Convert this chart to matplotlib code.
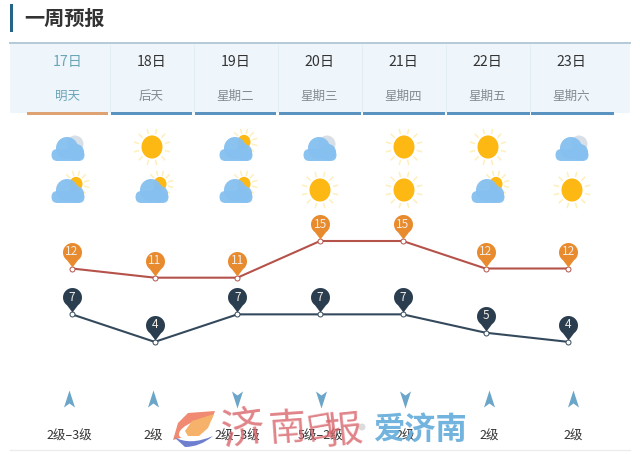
import numpy as np
import matplotlib
matplotlib.use('Agg')
import matplotlib.pyplot as plt
from matplotlib.path import Path
from matplotlib.patches import Circle, Ellipse, FancyBboxPatch, PathPatch, Polygon, Rectangle

plt.rcParams['font.family'] = ['Noto Sans CJK SC', 'DejaVu Sans']

# datos
dias = ['17日', '18日', '19日', '20日', '21日', '22日', '23日']
etiquetas = ['明天', '后天', '星期二', '星期三', '星期四', '星期五', '星期六']
t_max = [12, 11, 11, 15, 15, 12, 12]
t_min = [7, 4, 7, 7, 7, 5, 4]
viento = ['2级–3级', '2级', '2级–3级', '5级–2级', '2级', '2级', '2级']
dir_viento = ['n', 'n', 's', 's', 's', 'n', 'n']
cielo_1 = ['nublado', 'sol', 'parcial', 'nublado', 'sol', 'sol', 'nublado']
cielo_2 = ['parcial', 'parcial', 'parcial', 'sol', 'sol', 'parcial', 'sol']

W, H = 640, 454
fig = plt.figure(figsize=(W / 100, H / 100), dpi=100, facecolor='white')

# eje de fondo en pixeles, para la "pagina"
ax = fig.add_axes([0, 0, 1, 1])
ax.set_xlim(0, W)
ax.set_ylim(H, 0)
ax.axis('off')

AZUL_NUBE = '#86c0f0'


def nube(cx, cy):
    # cx, cy: centro de la nube
    ax.add_patch(FancyBboxPatch((cx - 16.5, cy - 1), 33, 12, boxstyle='round,pad=0,rounding_size=6',
                                fc=AZUL_NUBE, ec='none', alpha=0.97, zorder=4))
    ax.add_patch(Circle((cx - 1, cy - 2), 11, fc=AZUL_NUBE, ec='none', alpha=0.97, zorder=4))
    ax.add_patch(Circle((cx + 8, cy + 2), 8, fc=AZUL_NUBE, ec='none', alpha=0.97, zorder=4))


def sol(cx, cy, r, r1, r2):
    ax.add_patch(Ellipse((cx, cy), 2 * r, 2.2 * r, fc='#fdb813', ec='none', zorder=3))
    for a in np.arange(0, 2 * np.pi, np.pi / 6):
        ax.plot([cx + r1 * np.cos(a + 0.26), cx + r2 * np.cos(a + 0.26)],
                [cy + r1 * np.sin(a + 0.26), cy + r2 * np.sin(a + 0.26)],
                color='#fdf0bc', lw=1.1, zorder=2)


def icono(tipo, cx, cy):
    if tipo == 'sol':
        sol(cx, cy, 10.5, 14, 18)
    elif tipo == 'parcial':
        sol(cx + 8, cy - 8, 6.5, 9, 13)
        nube(cx, cy)
    else:
        ax.add_patch(Circle((cx + 7, cy - 6), 8.5, fc='#d8dfe6', ec='none', zorder=3))
        nube(cx, cy)


# titulo
ax.add_patch(Rectangle((10, 4), 3, 28, fc='#27648a', ec='none'))
ax.text(24, 18.5, '一周预报', fontsize=14.5, color='#333333', weight='bold', va='center', ha='left')

# cabecera
ax.add_patch(Rectangle((10, 44), 620, 69, fc='#eef6fc', ec='none'))
ax.plot([10, 630], [43, 43], color='#b3cad6', lw=1.4)
x_cab = 68 + 84 * np.arange(7)
inicio = [27, 111, 195, 279, 363, 447, 531]
fin = [108, 192, 276, 361, 445, 530, 614]
for i in range(7):
    if i > 0:
        ax.plot([inicio[i] - 1.5] * 2, [45, 111], color='#e2ecf3', lw=0.7)
    c_barra = '#dfa272' if i == 0 else '#5b93c0'
    ax.add_patch(Rectangle((inicio[i], 111.5), fin[i] - inicio[i], 3, fc=c_barra, ec='none'))
    ax.text(x_cab[i] - 0.5, 62, dias[i], fontsize=10.2, ha='center', va='center',
            color='#6aa5b8' if i == 0 else '#333333')
    ax.text(x_cab[i] - 0.5, 96.5, etiquetas[i], fontsize=9, ha='center', va='center',
            color='#6aa5b8' if i == 0 else '#858a8e')
    icono(cielo_1[i], x_cab[i], 150 if cielo_1[i] != 'sol' else 147)
    icono(cielo_2[i], x_cab[i], 192 if cielo_2[i] != 'sol' else 190)

# flechas de viento, como marcador
v = [(0, 9), (-5.5, -8), (0, -4), (5.5, -8), (0, 9)]
cod = [Path.MOVETO, Path.LINETO, Path.LINETO, Path.LINETO, Path.CLOSEPOLY]
flecha_n = Path(v, cod)
flecha_s = Path([(a, -b) for a, b in v], cod)
x_viento = 69 + 84 * np.arange(7)
for i in range(7):
    ax.plot(x_viento[i], 399, marker=flecha_n if dir_viento[i] == 'n' else flecha_s,
            ms=13, color='#6ba6c9', mec='none', ls='')
    ax.text(x_viento[i], 436.5, viento[i], fontsize=9, ha='center', va='center', color='#333333')
ax.plot([10, 630], [449.5, 449.5], color='#ececec', lw=1)

# eje de temperatura, encima del otro y con la misma caja
ax_t = fig.add_axes([0, 0, 1, 1], facecolor='none')
ax_t.set_xlim(-72 / 82.7, (W - 72) / 82.7)
ax_t.set_ylim(15 - (H - 241) / 9.17, 15 + 241 / 9.17)
ax_t.axis('off')

# pin: la punta queda en el (0,0) del marcador
ang = np.linspace(-0.95, np.pi + 0.95, 40)
pin_v = [(0, 2)] + [(9.5 * np.cos(a), 17 + 9.5 * np.sin(a)) for a in ang] + [(0, 2)]
pin = Path(pin_v, [Path.MOVETO] + [Path.LINETO] * (len(pin_v) - 2) + [Path.CLOSEPOLY])
ms_pin = 2 * abs(np.array(pin_v)).max() * 0.72

x = np.arange(7)
for serie, c_linea, c_pin in [(t_max, '#b5524a', '#e88a2e'), (t_min, '#34495c', '#2b3e50')]:
    ax_t.plot(x, serie, color=c_linea, lw=1.5, zorder=2)
    ax_t.plot(x, serie, ls='', marker='o', ms=3.6, mfc='white', mec=c_linea, mew=0.7, zorder=3)
    ax_t.plot(x, serie, ls='', marker=pin, ms=ms_pin, color=c_pin, mec='none', zorder=4)
    for i in x:
        ax_t.annotate(str(serie[i]), (i, serie[i]), xytext=(0, 12.2), textcoords='offset points',
                      ha='center', va='center', fontsize=8.6, color='#f2ece4', zorder=5)

# marca de agua
ax_w = fig.add_axes([0, 0, 1, 1], facecolor='none')
ax_w.set_xlim(0, W)
ax_w.set_ylim(H, 0)
ax_w.axis('off')
ax_w.add_patch(Polygon([(173, 440), (178, 423), (188, 413), (215, 411), (209, 426), (198, 436), (180, 438)],
                       fc='#f08a72', ec='none'))
ax_w.add_patch(Ellipse((197, 429), 38, 16, angle=-20, fc='white', ec='none'))
ax_w.add_patch(Polygon([(185, 431), (192, 421), (214, 414), (208, 428), (199, 436), (188, 436)],
                       fc='#f6b26b', ec='none'))
arco = Path([(174, 437), (190, 446), (213, 436), (200, 447), (185, 447), (174, 437)],
            [Path.MOVETO, Path.CURVE3, Path.CURVE3, Path.CURVE3, Path.CURVE3, Path.CLOSEPOLY])
ax_w.add_patch(PathPatch(arco, fc='#6f7fd0', ec='none'))
for xt, yt, car, tam, rot in [(243, 430, '济', 31, 8), (288, 429, '南', 27, 4), (320, 428, '日', 23, 10), (344, 431, '报', 27, 6)]:
    ax_w.text(xt, yt, car, fontsize=tam, color='#d9656b', alpha=0.8, ha='center', va='center',
              rotation=rot, style='italic')
ax_w.add_patch(Circle((362, 427), 3.5, fc='#dcdcdc', ec='none'))
ax_w.text(421, 430, '爱济南', fontsize=22.5, color='#6bb0de', weight='bold', ha='center', va='center', alpha=0.95)

fig.savefig('out.png', dpi=100)
